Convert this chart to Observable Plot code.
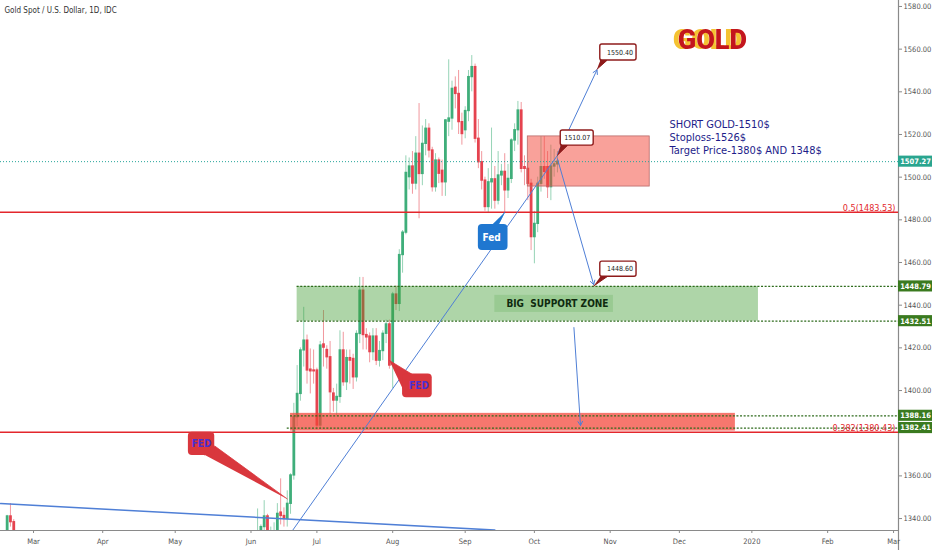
<!DOCTYPE html>
<html><head><meta charset="utf-8">
<script src="https://cdn.jsdelivr.net/npm/d3@7"></script>
<script src="https://cdn.jsdelivr.net/npm/@observablehq/plot@0.6"></script>
<style>html,body{margin:0;padding:0;background:#fff;} svg{display:block}</style>
</head><body><div id="chart"></div>
<script>
// ---------- candle data (daily, XAUUSD) ----------
const candleDates = ["2019-02-19","2019-02-20","2019-02-21",
"2019-06-05","2019-06-06","2019-06-07","2019-06-10","2019-06-11","2019-06-12","2019-06-13","2019-06-14","2019-06-17","2019-06-18","2019-06-19","2019-06-20","2019-06-21","2019-06-24","2019-06-25","2019-06-26","2019-06-27","2019-06-28",
"2019-07-01","2019-07-02","2019-07-03","2019-07-04","2019-07-05","2019-07-08","2019-07-09","2019-07-10","2019-07-11","2019-07-12","2019-07-15","2019-07-16","2019-07-17","2019-07-18","2019-07-19","2019-07-22","2019-07-23","2019-07-24","2019-07-25","2019-07-26","2019-07-29","2019-07-30","2019-07-31",
"2019-08-01","2019-08-02","2019-08-05","2019-08-06","2019-08-07","2019-08-08","2019-08-09","2019-08-12","2019-08-13","2019-08-14","2019-08-15","2019-08-16","2019-08-19","2019-08-20","2019-08-21","2019-08-22","2019-08-23","2019-08-26","2019-08-27","2019-08-28","2019-08-29","2019-08-30",
"2019-09-02","2019-09-03","2019-09-04","2019-09-05","2019-09-06","2019-09-09","2019-09-10","2019-09-11","2019-09-12","2019-09-13","2019-09-16","2019-09-17","2019-09-18","2019-09-19","2019-09-20","2019-09-23","2019-09-24","2019-09-25","2019-09-26","2019-09-27","2019-09-30",
"2019-10-01","2019-10-02","2019-10-03","2019-10-04","2019-10-07","2019-10-08","2019-10-09","2019-10-10"];
const opens = [1327,1341,1338.3,
1324,1333,1336,1341,1327,1327.5,1334,1342.8,1341.2,1339.8,1346.9,1360.2,1387.5,1398.4,1418.8,1423.4,1409.8,1409.4,
1409.4,1383.6,1421.6,1419,1415.6,1398.6,1395.3,1397,1418.8,1403.9,1415.2,1414.8,1406.2,1426.5,1446.8,1426,1425.3,1418,1425.3,1414,1418.5,1426.6,1431,
1412,1445,1440.6,1463.5,1474,1500,1505,1497,1511,1501.5,1515.6,1522.7,1512.5,1495.3,1507.8,1503,1497.6,1526,1527.5,1541.9,1539,1525.8,
1522,1531,1546.9,1551.6,1518,1507,1498.4,1486,1497.6,1499,1489,1500.8,1502.5,1493.8,1499.2,1517.2,1522,1531.25,1504.7,1503.9,1496.9,
1471.9,1478.1,1496.9,1504.7,1504.7,1495.3,1505,1506];
const highs = [1341.5,1347,1339.5,
1344.5,1337,1348.4,1342,1336,1338,1347,1358.6,1345,1353,1361,1394,1411.7,1420,1439,1426,1419.5,1419,
1410.5,1423,1437.5,1421,1423,1401,1403,1428,1427.3,1419,1419,1417,1428,1453,1453,1429,1427,1429,1429,1423,1428,1433,1433,
1446,1449,1466,1475,1510,1509,1512,1519,1534.5,1524,1527,1525,1514,1511,1509,1508,1527,1555,1545,1547,1550,1530,
1533,1550,1557,1553,1527,1512,1500,1504,1523,1505,1512,1506,1511,1506,1518,1525,1535.5,1535,1510,1507,1499,
1484,1500,1519,1519,1512,1515,1513,1512];
const lows = [1322,1336,1320,
1320,1328,1330,1324,1323,1325,1331,1337,1336,1336,1342,1358,1383,1395,1411,1403,1398.4,1403,
1381.5,1382,1411,1410,1389,1389.8,1388.2,1394,1402,1400,1403,1400.5,1404,1422,1419,1419,1413,1414,1411.7,1411,1414,1422,1410,
1400.9,1437.5,1437,1455,1473,1494,1492,1494,1480.5,1496,1510,1509,1493,1493,1497,1491,1491,1519,1522,1532,1520,1515,
1518,1526,1540,1516,1504,1494,1484,1483,1485,1485,1487,1496,1483.6,1490,1497,1512,1515,1502,1496,1489,1465.6,
1459.4,1474,1493,1499,1490,1489,1500,1502];
const closes = [1341,1338.3,1323,
1333,1336,1341,1327,1327.5,1334,1342.2,1341.2,1339.8,1346.9,1360.2,1387.5,1398.4,1418.8,1423.4,1409.4,1409,1409,
1383.6,1421.1,1420.1,1415.6,1399.2,1395.3,1397,1418.8,1403.9,1415.2,1414,1406.2,1426.5,1446.8,1426,1424.9,1418,1425.3,1414,1418.5,1426.6,1431,1411.7,
1445,1440.6,1463.5,1474,1502,1505,1497,1511,1501.5,1515.6,1522.7,1512.5,1495.3,1507.8,1501.6,1497.6,1526.6,1527.5,1541.4,1539,1525.8,1520.2,
1531,1546.9,1551.6,1518,1507,1498.4,1486,1497.6,1499,1489,1500.8,1502.5,1493.8,1499.2,1517.2,1522,1531.25,1503.9,1503.9,1496.9,1471.9,
1478.1,1496.9,1504.7,1502.5,1495.3,1505,1506,1507.27];

// ---------- axes ----------
const yTicks = [1340,1360,1400,1420,1440,1460,1480,1500,1520,1540,1560,1580];
const monthStarts = ["2019-03-01","2019-04-01","2019-05-01","2019-06-03","2019-07-01","2019-08-01","2019-09-02","2019-10-01","2019-11-01","2019-12-02","2020-01-01","2020-02-03","2020-03-02"];
const monthLabels = ["Mar","Apr","May","Jun","Jul","Aug","Sep","Oct","Nov","Dec","2020","Feb","Mar"];

// ---------- levels ----------
const lastPrice = 1507.27;
const fibLevels = [1483.53, 1380.43];
const fibLabels = ["0.5(1483.53)", "0.382(1380.43)"];
const supportLevels = [1448.79, 1432.51, 1388.16, 1382.41];
const supportStarts = ["2019-06-21","2019-06-21","2019-06-19","2019-06-18"];

// ---------- drawings (time, price) ----------
const shortZone = {from: "2019-09-27", to: "2019-11-19", lo: 1495.6, hi: 1519.1};
const supportZone = {from: "2019-06-21", to: "2020-01-03", lo: 1432.51, hi: 1448.79};
const targetZone = {from: "2019-06-19", to: "2019-12-25", lo: 1381.0, hi: 1389.3};
const zoneLabelBox = {from: "2019-09-13", to: "2019-11-04", lo: 1436.6, hi: 1444.6};
const zoneLabel = {text: "BIG  SUPPORT ZONE", at: "2019-10-10", price: 1440.65};

const trendUp = [["2019-06-18", 1330.9], ["2019-10-10", 1510.2]];
const trendDown = [["2019-02-15", 1347.0], ["2019-09-13", 1334.6]];
const arrows = [
  ["2019-10-10", 1510.8, "2019-10-28", 1550.3],
  ["2019-10-10", 1508.6, "2019-10-25", 1449.6],
  ["2019-10-17", 1429.5, "2019-10-21", 1383.6]
];
const priceTags = [
  {text: "1510.07", from: "2019-10-11", to: "2019-10-25", lo: 1514.8, hi: 1521.9, mid: "2019-10-18",
   tail: [["2019-10-11", 1514.8], ["2019-10-15", 1514.8], ["2019-10-10", 1510.3]]},
  {text: "1550.40", from: "2019-10-29", to: "2019-11-13", lo: 1554.7, hi: 1562.2, mid: "2019-11-06",
   tail: [["2019-10-29", 1554.7], ["2019-10-31", 1554.7], ["2019-10-28", 1550.6]]},
  {text: "1448.60", from: "2019-10-29", to: "2019-11-13", lo: 1453.3, hi: 1460.4, mid: "2019-11-06",
   tail: [["2019-10-29", 1453.3], ["2019-10-31", 1453.3], ["2019-10-25", 1449.0]]}
];
const fedCallouts = [
  {text: "Fed", from: "2019-09-06", to: "2019-09-19", lo: 1465.6, hi: 1477.8, mid: "2019-09-12", midP: 1471.6,
   fill: "#1f77d0", color: "#ffffff", tail: [["2019-09-12", 1477.5], ["2019-09-16", 1477.5], ["2019-09-18", 1483.6]]},
  {text: "FED", from: "2019-08-06", to: "2019-08-19", lo: 1396.6, hi: 1407.8, mid: "2019-08-13", midP: 1402.2,
   fill: "#d9373d", color: "#4a2fd0", tail: [["2019-08-06", 1401.0], ["2019-08-09", 1407.5], ["2019-07-31", 1414.1]]},
  {text: "FED", from: "2019-05-07", to: "2019-05-17", lo: 1369.5, hi: 1380.4, mid: "2019-05-13", midP: 1375.0,
   fill: "#d9373d", color: "#4a2fd0", tail: [["2019-05-14", 1369.8], ["2019-05-17", 1374.0], ["2019-06-18", 1349.2]]}
];
const tradeNote = ["SHORT GOLD-1510$", "Stoploss-1526$", "Target Price-1380$ AND 1348$"];
const notePrices = [1524.5, 1518.6, 1512.7];
const noteDate = "2019-11-27";
const logoText = "GOLD";
const logoAt = {date: "2019-12-16", price: 1564.0};
const title = "Gold Spot / U.S. Dollar, 1D, IDC";

// ---------- trading-day index (weekdays since 2019-03-01) ----------
const base = Date.UTC(2019, 2, 1); // a Friday
function wd(s) {
  const n = Math.round((Date.parse(s + "T00:00:00Z") - base) / 864e5);
  const w = Math.floor(n / 7), r = n - w * 7;
  return w * 5 + [0, 0, 0, 1, 2, 3, 4][r];
}

const UP = "#3fae7a", DOWN = "#e5434f";
const candles = candleDates.map((d, k) => ({i: wd(d), o: opens[k], h: highs[k], l: lows[k], c: closes[k]}));
const monthIdx = monthStarts.map(wd);

const xMin = -10.02, xMax = 262.5, yMin = 1334.4, yMax = 1582.8, yFoot = 1325.0;
const labelW = 10.35; // right-axis label box width, in bars
const font = "'Liberation Sans Narrow','DejaVu Sans Condensed',Roboto,sans-serif";

const tagBoxes = [
  {v: lastPrice, fill: "#2aa58f"},
  ...supportLevels.map(v => ({v, fill: "#3a7a1f"}))
];

const marks = [
  // frame
  Plot.ruleY([yMin], {stroke: "#8a8a8a", strokeWidth: 1.2}),
  Plot.ruleX([xMax], {y1: yMax, y2: yFoot, stroke: "#8a8a8a", strokeWidth: 1.2}),
  Plot.axisY({anchor: "right", label: null, ticks: yTicks, tickFormat: d => d.toFixed(2), tickSize: 3, tickPadding: 2, fontSize: 7.5, stroke: "#8a8a8a"}),
  Plot.axisX({label: null, ticks: monthIdx, tickFormat: d => monthLabels[monthIdx.indexOf(d)], tickSize: 3, tickPadding: 5, fontSize: 7.5, stroke: "#8a8a8a"}),

  // candles
  Plot.ruleX(candles, {x: "i", y1: "l", y2: "h", stroke: d => d.c >= d.o ? UP : DOWN, strokeOpacity: 0.55, strokeWidth: 1, clip: true}),
  Plot.ruleX(candles, {x: "i", y1: d => Math.min(d.o, d.c) - 0.3, y2: d => Math.max(d.o, d.c) + 0.3, stroke: d => d.c >= d.o ? UP : DOWN, strokeWidth: 2.8, clip: true}),

  // zones
  Plot.rect([shortZone], {x1: d => wd(d.from), x2: d => wd(d.to), y1: "lo", y2: "hi", fill: "#f44336", fillOpacity: 0.5, stroke: "#b86a6a", strokeWidth: 0.8}),
  Plot.rect([supportZone], {x1: d => wd(d.from), x2: d => wd(d.to), y1: "lo", y2: "hi", fill: "#3f9b30", fillOpacity: 0.42}),
  Plot.rect([zoneLabelBox], {x1: d => wd(d.from), x2: d => wd(d.to), y1: "lo", y2: "hi", fill: "#3f9b30", fillOpacity: 0.18}),
  Plot.rect([targetZone], {x1: d => wd(d.from), x2: d => wd(d.to), y1: "lo", y2: "hi", fill: "#f44336", fillOpacity: 0.72}),

  // horizontal levels
  Plot.ruleY(fibLevels, {x1: xMin, x2: xMax, stroke: "#e3262c", strokeWidth: 1.5}),
  Plot.ruleY([lastPrice], {x1: xMin, x2: xMax, stroke: "#26a69a", strokeWidth: 1, strokeDasharray: "1,2"}),
  Plot.ruleY(supportLevels, {x1: (d, i) => wd(supportStarts[i]), x2: xMax, stroke: "#2e6b1c", strokeWidth: 1.3, strokeDasharray: "2,1.6"}),
  Plot.text(fibLevels, {x: xMax, y: d => d, text: (d, i) => fibLabels[i], textAnchor: "end", lineAnchor: "bottom", dx: -3, dy: -1, fill: "#e3262c", fontSize: 9, fontFamily: font}),

  // trend lines
  Plot.line(trendDown, {x: d => wd(d[0]), y: d => d[1], stroke: "#4f7fd6", strokeWidth: 1.5, clip: true}),
  Plot.line(trendUp, {x: d => wd(d[0]), y: d => d[1], stroke: "#4f7fd6", strokeWidth: 1, clip: true}),
  Plot.arrow(arrows, {x1: d => wd(d[0]), y1: d => d[1], x2: d => wd(d[2]), y2: d => d[3], stroke: "#4f7fd6", strokeWidth: 1, headLength: 7}),

  // zone label
  Plot.text([zoneLabel], {x: d => wd(d.at), y: "price", text: "text", fontSize: 10, fontWeight: 700, fill: "#0f2a0f", fontFamily: font}),

  // price tags
  ...priceTags.map(t => Plot.line(t.tail, {x: d => wd(d[0]), y: d => d[1], fill: "#8e1b1b", stroke: "#8e1b1b", strokeWidth: 1})),
  Plot.rect(priceTags, {x1: d => wd(d.from), x2: d => wd(d.to), y1: "lo", y2: "hi", fill: "#fff", stroke: "#8e1b1b", strokeWidth: 1.4, rx: 2}),
  Plot.text(priceTags, {x: d => wd(d.mid), y: d => (d.lo + d.hi) / 2, text: "text", fontSize: 7, fill: "#222", fontFamily: font}),

  // Fed callouts
  ...fedCallouts.map(t => Plot.line(t.tail, {x: d => wd(d[0]), y: d => d[1], fill: t.fill, stroke: t.fill, strokeWidth: 0.8})),
  Plot.rect(fedCallouts, {x1: d => wd(d.from), x2: d => wd(d.to), y1: "lo", y2: "hi", fill: "fill", rx: 4}),
  Plot.text(fedCallouts, {x: d => wd(d.mid), y: "midP", text: "text", fill: "color", fontSize: 10, fontWeight: 700, fontFamily: font}),

  // notes
  Plot.text(tradeNote, {x: wd(noteDate), y: (d, i) => notePrices[i], textAnchor: "start", fontSize: 11, fill: "#1d1d8a", fontFamily: "'DejaVu Sans Condensed','Liberation Sans Narrow',Roboto,sans-serif"}),
  Plot.text([logoText], {x: wd(logoAt.date), y: logoAt.price, fontSize: 27, fontWeight: 900, fill: "#c3161d", fontFamily: "Roboto,sans-serif", imageFilter: "drop-shadow(-5px 0px 0px #f4c232)"}),
  Plot.text([title], {frameAnchor: "top-left", dx: 4, dy: 7, textAnchor: "start", lineAnchor: "top", fontSize: 8, fill: "#333", fontFamily: font}),

  // right-axis price tags
  Plot.rect(tagBoxes, {x1: xMax, x2: xMax + labelW, y1: d => d.v - 2.6, y2: d => d.v + 2.6, fill: "fill"}),
  Plot.text(tagBoxes, {x: xMax, y: "v", dx: 17, text: d => d.v.toFixed(2), fill: "#fff", fontSize: 7.5, fontWeight: 700, fontFamily: font})
];

const chart = Plot.plot({
  width: 932, height: 550,
  marginLeft: 0, marginRight: 34, marginTop: 0, marginBottom: 20,
  x: {domain: [xMin, xMax]},
  y: {domain: [yMin, yMax]},
  color: {type: "identity"},
  style: {fontFamily: font, fontSize: "7.5px", color: "#555", background: "#fff", overflow: "visible"},
  marks
});
document.getElementById("chart").appendChild(chart);
</script>
</body></html>
